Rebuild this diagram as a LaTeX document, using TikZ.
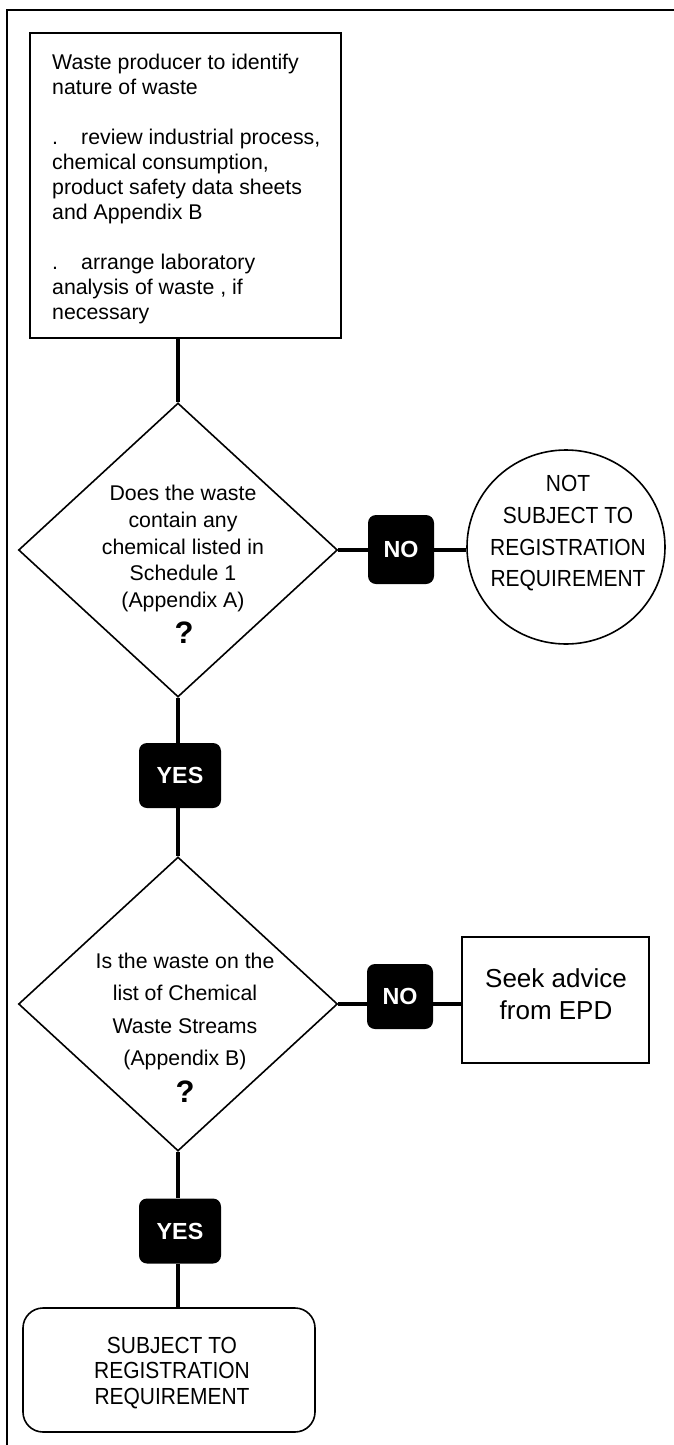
\documentclass[tikz,border=0pt]{standalone}
\usepackage{fontspec}
\setmainfont{Liberation Sans}
\newfontfamily\condfont[FakeStretch=0.9]{Liberation Sans}
\usetikzlibrary{shapes.geometric}
\begin{document}
\begin{tikzpicture}[x=1pt,y=-1pt,
  frameline/.style={line width=2.2pt},
  procbox/.style={draw, line width=1.6pt, rectangle, inner sep=0pt},
  decision/.style={draw, diamond, line width=1.6pt, minimum width=319pt, minimum height=294pt, inner sep=0pt},
  lbl/.style={fill=black, rounded corners=8pt, text=white, font=\fontsize{23.3}{23.3}\selectfont\bfseries, inner sep=0pt},
  conn/.style={line width=4.5pt},
  txt/.style={align=center, inner sep=0pt},
  qmark/.style={inner sep=0pt, font=\fontsize{31}{31}\selectfont\bfseries},
]
\useasboundingbox (0,0) rectangle (674,1445);
\draw[frameline] (7,1445) -- (7,10) -- (674,10);

\node[procbox, minimum width=311pt, minimum height=305pt] (top) at (185.5,185.5) {};
\node[align=left, inner sep=0pt, anchor=west, font=\fontsize{21.3}{25}\selectfont] (topt) at (52,188.5)
  {Waste producer to identify\\nature of waste\\[25pt]\makebox[29pt][l]{.}review industrial process,\\chemical consumption,\\product safety data sheets\\and Appendix B\\[25pt]\makebox[29pt][l]{.}arrange laboratory\\analysis of waste , if\\necessary};

\node[decision] (d1) at (178,550) {};
\node[txt, font=\fontsize{21.3}{26.7}\selectfont] (d1t) at (183,548.5)
  {Does the waste\\contain any\\chemical listed in\\Schedule 1\\(Appendix A)};
\node[qmark] (d1q) at (184,633) {?};

\node[lbl, minimum width=66pt, minimum height=69pt] (no1) at (401,549.5) {NO};
\node[draw, ellipse, line width=1.6pt, minimum width=198pt, minimum height=194pt, inner sep=0pt] (circ) at (566,547) {};
\node[txt, font=\condfont\fontsize{23.3}{31.7}\selectfont] (circt) at (568,533.5)
  {NOT\\SUBJECT TO\\REGISTRATION\\REQUIREMENT};

\node[lbl, minimum width=82pt, minimum height=65pt] (yes1) at (180,775.5) {YES};

\node[decision] (d2) at (178,1004) {};
\node[txt, font=\fontsize{21.3}{32.4}\selectfont] (d2t) at (185,1011.5)
  {Is the waste on the\\list of Chemical\\Waste Streams\\(Appendix B)};
\node[qmark] (d2q) at (185,1092) {?};

\node[lbl, minimum width=66pt, minimum height=65pt] (no2) at (400,996.5) {NO};
\node[procbox, minimum width=187pt, minimum height=126pt] (seek) at (555.5,1000) {};
\node[txt, font=\fontsize{26}{32}\selectfont] (seekt) at (556,994) {Seek advice\\from EPD};

\node[lbl, minimum width=82pt, minimum height=65pt] (yes2) at (180,1231) {YES};

\node[draw, rounded corners=20pt, line width=1.6pt, minimum width=292pt, minimum height=124pt, inner sep=0pt] (final) at (169,1370) {};
\node[txt, font=\condfont\fontsize{23.3}{25.5}\selectfont] (finalt) at (172,1373)
  {SUBJECT TO\\REGISTRATION\\REQUIREMENT};

\draw[conn] (d1.north |- top.south) -- (d1.north);
\draw[conn] (d1.south) -- (d1.south |- yes1.north);
\draw[conn] (d1.south |- yes1.south) -- (d2.north);
\draw[conn] (d2.south) -- (d2.south |- yes2.north);
\draw[conn] (d2.south |- yes2.south) -- (d2.south |- final.north);
\draw[conn] (d1.east) -- (d1.east -| no1.west);
\draw[conn] (d1.east -| no1.east) -- (d1.east -| circ.west);
\draw[conn] (d2.east) -- (d2.east -| no2.west);
\draw[conn] (d2.east -| no2.east) -- (d2.east -| seek.west);
\end{tikzpicture}
\end{document}
